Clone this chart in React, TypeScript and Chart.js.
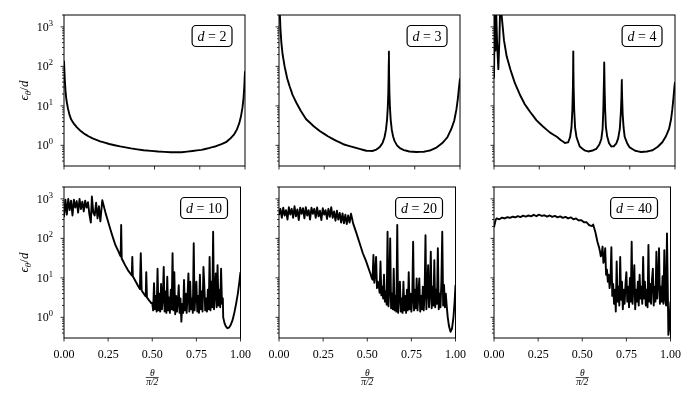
import { useEffect, useRef } from 'react';
import { Chart, registerables } from 'chart.js';
import type { Plugin } from 'chart.js';

Chart.register(...registerables);

// axis ticks
const xTicks = [0, 0.25, 0.5, 0.75, 1];
const xTickLabels = ['0.00', '0.25', '0.50', '0.75', '1.00'];
const yTickDecades = [-1, 0, 1, 2, 3];
const yLabelDecades = [0, 1, 2, 3];
const yTickMultipliers = [1, 2, 3, 4, 5, 6, 7, 8, 9];
const yMin = 0.32;
const yMax = 2000;

// d = 2
const d2X = [0, 0.004, 0.008, 0.012, 0.016, 0.022, 0.03, 0.04, 0.055, 0.07, 0.09, 0.11, 0.135, 0.165, 0.2, 0.25, 0.31, 0.37, 0.44, 0.52, 0.59, 0.65, 0.71, 0.76, 0.8, 0.84, 0.87, 0.895, 0.92, 0.94, 0.955, 0.968, 0.978, 0.986, 0.992, 0.996, 1.0];
const d2Y = [138, 50, 25, 16, 12, 8.5, 6, 4.5, 3.5, 2.9, 2.35, 2.0, 1.7, 1.45, 1.26, 1.08, 0.94, 0.84, 0.75, 0.7, 0.67, 0.67, 0.72, 0.77, 0.85, 0.95, 1.07, 1.2, 1.5, 1.9, 2.5, 3.6, 5.5, 9, 16, 30, 75];

// d = 3
const d3X = [0, 0.004, 0.008, 0.013, 0.02, 0.031, 0.045, 0.059, 0.075, 0.096, 0.12, 0.15, 0.19, 0.225, 0.27, 0.317, 0.36, 0.41, 0.45, 0.483, 0.515, 0.538, 0.558, 0.572, 0.583, 0.591, 0.597, 0.601, 0.604, 0.6055, 0.607, 0.6085, 0.61, 0.613, 0.617, 0.623, 0.63, 0.638, 0.652, 0.668, 0.69, 0.72, 0.76, 0.8, 0.833, 0.87, 0.907, 0.93, 0.952, 0.968, 0.98, 0.988, 0.994, 1.0];
const d3Y = [6000, 2500, 900, 400, 200, 100, 50, 31, 19, 12, 7.5, 4.6, 3.1, 2.3, 1.7, 1.3, 1.05, 0.9, 0.8, 0.73, 0.72, 0.78, 0.92, 1.15, 1.6, 2.5, 4.5, 9, 22, 55, 240, 55, 22, 9, 4.5, 2.5, 1.7, 1.3, 1.0, 0.85, 0.76, 0.7, 0.68, 0.69, 0.74, 0.88, 1.2, 1.6, 2.6, 4.2, 8, 15, 28, 50];

// d = 4
const d4X = [0, 0.004, 0.008, 0.012, 0.017, 0.024, 0.03, 0.034, 0.04, 0.055, 0.07, 0.091, 0.115, 0.146, 0.17, 0.2, 0.235, 0.274, 0.31, 0.347, 0.37, 0.392, 0.41, 0.42, 0.428, 0.433, 0.436, 0.437, 0.438, 0.439, 0.44, 0.443, 0.448, 0.456, 0.474, 0.5, 0.52, 0.545, 0.565, 0.582, 0.593, 0.6, 0.604, 0.607, 0.608, 0.609, 0.61, 0.611, 0.614, 0.618, 0.625, 0.635, 0.648, 0.662, 0.675, 0.686, 0.695, 0.701, 0.704, 0.705, 0.706, 0.707, 0.708, 0.711, 0.716, 0.722, 0.735, 0.748, 0.78, 0.812, 0.845, 0.876, 0.905, 0.93, 0.95, 0.967, 0.978, 0.985, 0.991, 0.996, 1.0];
const d4Y = [50, 3000, 250, 2500, 400, 85, 500, 3000, 2500, 460, 180, 82, 38, 18, 11, 7, 4.3, 2.9, 2.1, 1.65, 1.35, 1.15, 1.2, 1.6, 2.8, 8, 30, 70, 240, 70, 30, 8, 2.8, 1.6, 0.93, 0.75, 0.7, 0.74, 0.81, 1.05, 1.45, 2.6, 8, 35, 60, 125, 60, 30, 8, 3, 1.7, 1.15, 0.93, 0.95, 1.1, 1.5, 2.6, 7, 16, 25, 46, 25, 16, 6, 2.8, 1.65, 1.15, 0.9, 0.73, 0.68, 0.7, 0.75, 0.92, 1.2, 1.7, 2.6, 4.5, 8, 15, 28, 40];

// d = 10
const d10X = [
  0, 0.008, 0.016, 0.024, 0.032, 0.04, 0.048, 0.056, 0.064, 0.072, 0.08, 0.088, 0.096, 0.104, 0.112, 0.12, 0.128, 0.136, 0.144, 0.152, 0.158, 0.166, 0.174, 0.182, 0.19, 0.198, 0.206, 0.217,
  0.236, 0.255, 0.273, 0.29, 0.309, 0.321, 0.324, 0.327, 0.346, 0.365, 0.384, 0.387, 0.39, 0.41, 0.43, 0.435, 0.44, 0.457, 0.463, 0.466, 0.47, 0.482, 0.494,
  0.5, 0.505, 0.51, 0.515, 0.52, 0.525, 0.53, 0.535, 0.54, 0.545, 0.55, 0.555, 0.56, 0.565, 0.57, 0.575, 0.58, 0.585, 0.59, 0.595,
  0.6, 0.605, 0.61, 0.615, 0.62, 0.625, 0.63, 0.635, 0.64, 0.645, 0.65, 0.655, 0.66, 0.665, 0.67, 0.675, 0.68, 0.685, 0.69, 0.695,
  0.7, 0.705, 0.71, 0.715, 0.72, 0.725, 0.73, 0.735, 0.74, 0.745, 0.75, 0.755, 0.76, 0.765, 0.77, 0.775, 0.78, 0.785, 0.79, 0.795,
  0.8, 0.805, 0.81, 0.815, 0.82, 0.825, 0.83, 0.835, 0.84, 0.845, 0.85, 0.855, 0.86, 0.865, 0.87, 0.875, 0.88, 0.885, 0.89, 0.895, 0.9,
  0.902, 0.91, 0.918, 0.926, 0.935, 0.945, 0.955, 0.965, 0.975, 0.985, 0.993, 1.0,
];
const d10Y = [
  350, 950, 400, 1000, 520, 900, 380, 950, 600, 880, 450, 1000, 550, 850, 480, 900, 600, 820, 400, 250, 1150, 450, 380, 800, 320, 650, 270, 930,
  430, 220, 120, 70, 46, 35, 218, 31, 21, 15, 11.5, 34, 11, 7.5, 5.2, 42, 4.8, 3.7, 3.4, 14, 3.2, 2.7, 2.3,
  2.3, 1.5, 7.3, 1.6, 3.5, 1.4, 17, 1.5, 4, 1.4, 7, 1.6, 3, 19, 1.4, 4.5, 1.3, 10.7, 1.5, 3.2,
  1.3, 5, 1.6, 42, 1.5, 14, 1.2, 3.5, 1.4, 2.5, 6.5, 1.3, 3, 0.78, 2.2, 1.3, 8.8, 1.5, 4, 1.3,
  3.5, 13, 1.4, 8, 1.6, 3, 1.3, 75, 1.5, 4, 8, 1.4, 3.5, 1.3, 12, 1.6, 4.5, 1.4, 19, 6.5,
  1.5, 3, 1.4, 5, 1.6, 34, 1.5, 8, 1.8, 147, 1.6, 4, 13, 1.8, 21, 2, 5, 1.8, 17, 2.2, 3,
  1.0, 0.7, 0.58, 0.53, 0.55, 0.65, 0.85, 1.3, 2.2, 4, 7.5, 14,
];

// d = 20
const d20X = [
  0, 0.008, 0.016, 0.024, 0.032, 0.04, 0.048, 0.056, 0.064, 0.072, 0.08, 0.088, 0.096, 0.104, 0.112, 0.12, 0.128, 0.136, 0.144, 0.152, 0.16, 0.168, 0.176, 0.184, 0.192, 0.2, 0.208, 0.216, 0.224, 0.232, 0.24, 0.248, 0.256, 0.264, 0.272, 0.28, 0.288, 0.296, 0.304, 0.312, 0.32, 0.328, 0.336, 0.344, 0.352, 0.36, 0.368, 0.376, 0.384, 0.392, 0.4, 0.408,
  0.42, 0.44, 0.457, 0.475, 0.494, 0.51,
  0.52, 0.525, 0.53, 0.535, 0.54, 0.545, 0.55, 0.555, 0.56, 0.565, 0.57, 0.575, 0.58, 0.585, 0.59, 0.595, 0.6, 0.605, 0.61, 0.615,
  0.62, 0.625, 0.63, 0.635, 0.64, 0.645, 0.65, 0.655, 0.66, 0.665, 0.67, 0.675, 0.68, 0.685, 0.69, 0.695, 0.7, 0.705, 0.71, 0.715,
  0.72, 0.725, 0.73, 0.735, 0.74, 0.745, 0.75, 0.755, 0.76, 0.765, 0.77, 0.775, 0.78, 0.785, 0.79, 0.795, 0.8, 0.805, 0.81, 0.815,
  0.82, 0.825, 0.83, 0.835, 0.84, 0.845, 0.85, 0.855, 0.86, 0.865, 0.87, 0.875, 0.88, 0.885, 0.89, 0.895, 0.9, 0.905, 0.91, 0.915,
  0.92, 0.925, 0.93, 0.935, 0.94, 0.945, 0.95,
  0.956, 0.963, 0.972, 0.98, 0.988, 0.995, 1.0,
];
const d20Y = [
  390, 560, 330, 600, 380, 520, 300, 620, 400, 560, 330, 650, 360, 540, 290, 600, 420, 580, 320, 620, 380, 520, 300, 600, 420, 560, 330, 610, 360, 500, 290, 580, 400, 520, 310, 560, 350, 620, 330, 480, 280, 500, 300, 440, 250, 430, 240, 400, 230, 380, 250, 420,
  240, 130, 75, 42, 26, 16,
  12, 10, 9, 38, 7.5, 12, 34, 5.5, 8, 6.6, 4.2, 26, 3.6, 6, 3, 12, 2.5, 4.5, 2.1, 147,
  1.9, 5, 100, 1.7, 4, 1.6, 17, 1.5, 3.5, 1.4, 218, 1.3, 4, 8, 1.4, 3, 1.3, 8, 1.5, 3.5,
  1.3, 5, 1.5, 14, 1.6, 4, 1.4, 3, 82, 1.5, 5, 1.7, 9.7, 1.5, 4, 9.7, 1.4, 3.5, 1.6, 6,
  1.5, 4, 120, 1.6, 5, 21, 1.8, 4, 46, 1.7, 6, 2, 28, 1.8, 5, 2.2, 56, 1.6, 4, 1.8,
  8, 147, 2, 6.6, 1.8, 4, 2,
  1.0, 0.6, 0.43, 0.52, 0.95, 2.5, 6.6,
];

// d = 40
const d40X = [
  0, 0.005, 0.01, 0.015, 0.03, 0.045, 0.06, 0.075, 0.09, 0.105, 0.12, 0.135, 0.15, 0.165, 0.18, 0.195, 0.21, 0.225, 0.24, 0.255, 0.27, 0.285, 0.3, 0.315, 0.33, 0.345, 0.36, 0.375, 0.39, 0.405, 0.42, 0.435, 0.45, 0.465, 0.48, 0.495, 0.51, 0.525, 0.54, 0.555,
  0.562, 0.568, 0.575, 0.586, 0.594,
  0.6, 0.605, 0.61, 0.615, 0.62, 0.625, 0.63, 0.635, 0.64, 0.645, 0.65, 0.655, 0.66, 0.665, 0.67, 0.675, 0.68, 0.685, 0.69, 0.695,
  0.7, 0.705, 0.71, 0.715, 0.72, 0.725, 0.73, 0.735, 0.74, 0.745, 0.75, 0.755, 0.76, 0.765, 0.77, 0.775, 0.78, 0.785, 0.79, 0.795,
  0.8, 0.805, 0.81, 0.815, 0.82, 0.825, 0.83, 0.835, 0.84, 0.845, 0.85, 0.855, 0.86, 0.865, 0.87, 0.875, 0.88, 0.885, 0.89, 0.895,
  0.9, 0.905, 0.91, 0.915, 0.92, 0.925, 0.93, 0.935, 0.94, 0.945, 0.95, 0.955, 0.96, 0.965, 0.97, 0.975,
  0.98, 0.984, 0.988, 0.992, 0.996, 1.0,
];
const d40Y = [
  190, 240, 300, 320, 305, 335, 320, 345, 330, 355, 340, 365, 345, 375, 355, 380, 360, 395, 365, 400, 370, 385, 355, 380, 350, 370, 340, 360, 330, 350, 320, 340, 305, 320, 285, 290, 255, 255, 215, 205,
  225, 180, 140, 82, 62,
  48, 35, 40, 62, 24, 30, 56, 12, 16, 8, 12, 5.5, 9, 60, 3.5, 7, 2.2, 5, 1.4, 26,
  2.5, 6, 2, 34, 2.8, 8, 1.6, 5, 2.2, 7, 14, 2.5, 6, 1.8, 10, 2.5, 82, 2.2, 6, 21,
  1.6, 5, 2.5, 8, 2, 12, 3, 6, 2.2, 34, 3, 8, 2, 5, 1.8, 68, 2.5, 7, 2.2, 9,
  17, 2, 6, 2.5, 46, 3, 8, 56, 2.2, 6, 2.5, 11, 2.2, 50, 3, 2,
  134, 8, 0.36, 0.5, 1.2, 2.5,
];

const panelDims = ['2', '3', '4', '10', '20', '40'];
const panelX = [d2X, d3X, d4X, d10X, d20X, d40X];
const panelY = [d2Y, d3Y, d4Y, d10Y, d20Y, d40Y];

// layout
const colLefts = [64, 279, 494];
const rowTops = [15, 187];
const PW = 181;
const PH = 151;
const PL = 62;
const PR = 16;
const PT = 14;
const PB = 62;
const SERIF = '"Liberation Serif", "DejaVu Serif", serif';

const panelDecor: Plugin<'line'> = {
  id: 'panelDecor',
  afterDraw(chart, _args, opts: any) {
    const { ctx, chartArea: a } = chart;
    const xs = chart.scales.x;
    const ys = chart.scales.y;
    ctx.save();
    ctx.strokeStyle = '#000';
    ctx.fillStyle = '#000';

    // frame
    ctx.lineWidth = 1;
    ctx.strokeRect(a.left, a.top, a.right - a.left, a.bottom - a.top);

    // y ticks (outward)
    ctx.lineWidth = 0.8;
    for (const e of yTickDecades) {
      for (const m of yTickMultipliers) {
        const v = m * Math.pow(10, e);
        if (v < yMin || v > yMax) continue;
        const y = ys.getPixelForValue(v);
        const len = m === 1 ? 3.5 : 2;
        ctx.beginPath();
        ctx.moveTo(a.left - len, y);
        ctx.lineTo(a.left, y);
        ctx.stroke();
      }
    }
    // x ticks (outward)
    for (const v of xTicks) {
      const x = xs.getPixelForValue(v);
      ctx.beginPath();
      ctx.moveTo(x, a.bottom);
      ctx.lineTo(x, a.bottom + 3.5);
      ctx.stroke();
    }

    // y tick labels 10^n
    if (opts.yLabels) {
      const right = a.left - 11;
      for (const e of yLabelDecades) {
        const y = ys.getPixelForValue(Math.pow(10, e));
        ctx.textAlign = 'left';
        ctx.textBaseline = 'alphabetic';
        ctx.font = `8.5px ${SERIF}`;
        const ew = ctx.measureText(String(e)).width;
        ctx.fillText(String(e), right - ew, y - 1);
        ctx.font = `12px ${SERIF}`;
        ctx.textAlign = 'right';
        ctx.fillText('10', right - ew, y + 4);
      }
    }

    // y title: eps_theta / d
    if (opts.yTitle) {
      const cy = (a.top + a.bottom) / 2;
      const cx = a.left - 41;
      const parts = [
        { t: 'ϵ', f: `italic 13px ${SERIF}`, dy: 0 },
        { t: 'θ', f: `italic 9px ${SERIF}`, dy: 3 },
        { t: '/', f: `13px ${SERIF}`, dy: 0 },
        { t: 'd', f: `italic 13px ${SERIF}`, dy: 0 },
      ];
      let total = 0;
      const widths = parts.map((p) => {
        ctx.font = p.f;
        const w = ctx.measureText(p.t).width;
        total += w;
        return w;
      });
      ctx.translate(cx, cy);
      ctx.rotate(-Math.PI / 2);
      ctx.textAlign = 'left';
      ctx.textBaseline = 'alphabetic';
      let px = -total / 2;
      parts.forEach((p, i) => {
        ctx.font = p.f;
        ctx.fillText(p.t, px, 4.5 + p.dy);
        px += widths[i];
      });
      ctx.setTransform(chart.currentDevicePixelRatio, 0, 0, chart.currentDevicePixelRatio, 0, 0);
    }

    // x title: theta / (pi/2)
    if (opts.xTitle) {
      const cx = (a.left + a.right) / 2;
      ctx.textAlign = 'center';
      ctx.textBaseline = 'middle';
      ctx.font = `italic 9.5px ${SERIF}`;
      ctx.fillText('θ', cx, a.bottom + 35.5);
      ctx.lineWidth = 0.7;
      ctx.beginPath();
      ctx.moveTo(cx - 6.5, a.bottom + 39.5);
      ctx.lineTo(cx + 6.5, a.bottom + 39.5);
      ctx.stroke();
      ctx.fillText('π/2', cx, a.bottom + 44);
    }

    // annotation box "d = N"
    const fs = 14;
    ctx.font = `italic ${fs}px ${SERIF}`;
    const wd = ctx.measureText('d').width;
    ctx.font = `${fs}px ${SERIF}`;
    const rest = ' = ' + opts.dim;
    const wr = ctx.measureText(rest).width;
    const w = wd + wr + 11;
    const h = 21;
    const bx = a.right - 13 - w;
    const by = a.top + 10.5;
    ctx.beginPath();
    ctx.roundRect(bx, by, w, h, 4);
    ctx.fillStyle = '#fff';
    ctx.fill();
    ctx.lineWidth = 1.2;
    ctx.strokeStyle = '#000';
    ctx.stroke();
    ctx.fillStyle = '#000';
    ctx.textAlign = 'left';
    ctx.textBaseline = 'alphabetic';
    ctx.font = `italic ${fs}px ${SERIF}`;
    ctx.fillText('d', bx + 5.5, by + 15);
    ctx.font = `${fs}px ${SERIF}`;
    ctx.fillText(rest, bx + 5.5 + wd, by + 15);

    ctx.restore();
  },
};

const Panel = ({ idx }: { idx: number }) => {
  const canvasRef = useRef<HTMLCanvasElement | null>(null);
  const row = Math.floor(idx / 3);
  const col = idx % 3;

  useEffect(() => {
    if (!canvasRef.current) return;
    const xs = panelX[idx];
    const ys = panelY[idx];
    const chart = new Chart(canvasRef.current, {
      type: 'line',
      data: {
        datasets: [
          {
            data: xs.map((x, i) => ({ x, y: ys[i] })),
            borderColor: '#000',
            borderWidth: 1.9,
            pointRadius: 0,
            // tiny tension: avoids Chart.js' per-pixel "fast path", which merges spikes
            tension: 0.0001,
            fill: false,
            borderJoinStyle: 'round',
          },
        ],
      },
      options: {
        animation: false,
        responsive: true,
        maintainAspectRatio: false,
        events: [],
        layout: { padding: { top: PT, right: PR, left: 0, bottom: 0 } },
        plugins: {
          legend: { display: false },
          tooltip: { enabled: false },
          panelDecor: {
            dim: panelDims[idx],
            yLabels: col === 0,
            yTitle: col === 0,
            xTitle: row === 1,
          },
        } as any,
        scales: {
          x: {
            type: 'linear',
            min: 0,
            max: 1,
            grid: { display: false, drawTicks: false },
            border: { display: false },
            afterBuildTicks: (s: any) => {
              s.ticks = xTicks.map((v) => ({ value: v }));
            },
            afterFit: (s: any) => {
              s.height = PB;
            },
            ticks: {
              display: row === 1,
              autoSkip: false,
              maxRotation: 0,
              padding: 10,
              color: '#000',
              font: { family: SERIF, size: 12 },
              callback: (_v: any, i: number) => xTickLabels[i],
            },
          },
          y: {
            type: 'logarithmic',
            min: yMin,
            max: yMax,
            grid: { display: false, drawTicks: false },
            border: { display: false },
            ticks: { display: false },
            afterFit: (s: any) => {
              s.width = PL;
            },
          },
        },
      },
      plugins: [panelDecor],
    });
    return () => {
      chart.destroy();
    };
  }, [idx]);

  return (
    <div
      style={{
        position: 'absolute',
        left: colLefts[col] - PL,
        top: rowTops[row] - PT,
        width: PW + PL + PR,
        height: PH + PT + PB,
      }}
    >
      <canvas ref={canvasRef} />
    </div>
  );
};

const App = () => {
  return (
    <div style={{ position: 'fixed', left: 0, top: 0, width: 700, height: 400, background: '#fff' }}>
      {panelDims.map((_d, i) => (
        <Panel key={i} idx={i} />
      ))}
    </div>
  );
};

export default App;
